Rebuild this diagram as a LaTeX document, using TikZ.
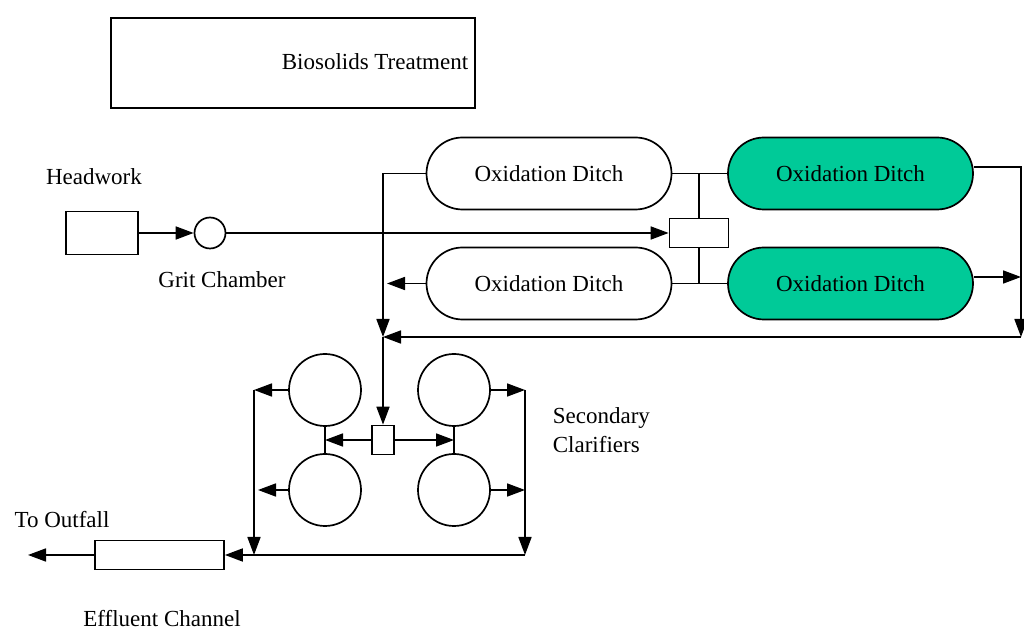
\documentclass[tikz,border=0pt]{standalone}
\usepackage{fontspec}
\setmainfont{Liberation Serif}
\usetikzlibrary{arrows.meta}
\definecolor{ditchgreen}{RGB}{0,202,152}
\tikzset{
  unit/.style={draw, rectangle, inner sep=0pt},
  ditch/.style={draw, rectangle, rounded corners=18pt, minimum width=122.5pt, minimum height=36pt, inner sep=0pt},
  greenditch/.style={ditch, fill=ditchgreen},
  clarifier/.style={draw, circle, minimum size=36pt, inner sep=0pt}
}
\begin{document}
\begin{tikzpicture}[x=0.5pt,y=-0.5pt,line width=0.85pt,
  font=\fontsize{11.5}{14.5}\selectfont,
  >={Triangle[length=9pt,width=6.5pt]}]
  \useasboundingbox (0,0) rectangle (1024,630);
  % biosolids
  \node[unit, minimum width=182pt, minimum height=45pt] (bio) at (293,63) {};
  \node (biotext) at (375,62) {Biosolids Treatment};
  % headwork and grit chamber
  \node (headlabel) at (94,177) {Headwork};
  \node[unit, minimum width=36pt, minimum height=21.5pt] (head) at (102,233) {};
  \node[draw, circle, minimum size=15.5pt, inner sep=0pt] (grit) at (210,233) {};
  \node (gritlabel) at (222,280) {Grit Chamber};
  \node[unit, minimum width=29.5pt, minimum height=14.5pt] (split) at (699,233) {};
  \draw[->] (head) -- (grit);
  \draw[->] (grit) -- (split);
  % oxidation ditches
  \node[ditch] (od1) at (549,173.5) {Oxidation Ditch};
  \node[ditch] (od2) at (549,283.5) {Oxidation Ditch};
  \node[greenditch] (od3) at (850.5,173.5) {Oxidation Ditch};
  \node[greenditch] (od4) at (850.5,283.5) {Oxidation Ditch};
  \draw (od1.east) -- (od3.west);
  \draw (od2.east) -- (od4.west);
  \draw (split.north) -- (split.north |- od1.east);
  \draw (split.south) -- (split.south |- od2.east);
  % return channel
  \coordinate (ret) at (383,337);
  \coordinate (reteast) at (1021,337);
  \coordinate (od2out) at (387,283.5);
  \coordinate (od3out) at ([yshift=3.25pt]od3.east);
  \coordinate (od4out) at ([yshift=3.25pt]od4.east);
  \draw[->] (od3out) -| (reteast);
  \draw[->] (od4out) -- (od4out -| reteast);
  \draw[->] (reteast) -- (ret);
  \draw[->] (od1.west) -| (ret);
  \draw[->] (od2.west) -- (od2out);
  % secondary clarifiers
  \node[unit, minimum width=11pt, minimum height=14.5pt] (dist) at (383,440) {};
  \draw[->] (ret) -- (dist.north);
  \node[clarifier] (c1) at (325,390) {};
  \node[clarifier] (c2) at (454,390) {};
  \node[clarifier] (c3) at (325,490) {};
  \node[clarifier] (c4) at (454,490) {};
  \node[anchor=west, align=left, inner sep=0pt] (clarlabel) at (552,430) {Secondary\\Clarifiers};
  \draw[->] (dist.west) -- (dist.west -| c1);
  \draw[->] (dist.east) -- (dist.east -| c2);
  \draw (c1.south) -- (c3.north);
  \draw (c2.south) -- (c4.north);
  \coordinate (leftbot) at (254,555);
  \coordinate (rightbot) at (525,555);
  \draw[->] (c1.west) -- (c1.west -| leftbot);
  \draw[->] (c3.west) -- ([xshift=2pt]c3.west -| leftbot);
  \draw[->] (c2.east) -- (c2.east -| rightbot);
  \draw[->] (c4.east) -- (c4.east -| rightbot);
  \draw[->] (c1.west -| leftbot) -- (leftbot);
  \draw[->] (c2.east -| rightbot) -- (rightbot);
  % effluent channel
  \node[unit, minimum width=64.5pt, minimum height=14.5pt] (eff) at (159.5,555) {};
  \coordinate (outfall) at (28,555);
  \draw[->] (rightbot) -- (eff.east);
  \draw[->] (eff.west) -- (outfall);
  \node (outlabel) at (62,520) {To Outfall};
  \node (efflabel) at (162,619) {Effluent Channel};
\end{tikzpicture}
\end{document}
